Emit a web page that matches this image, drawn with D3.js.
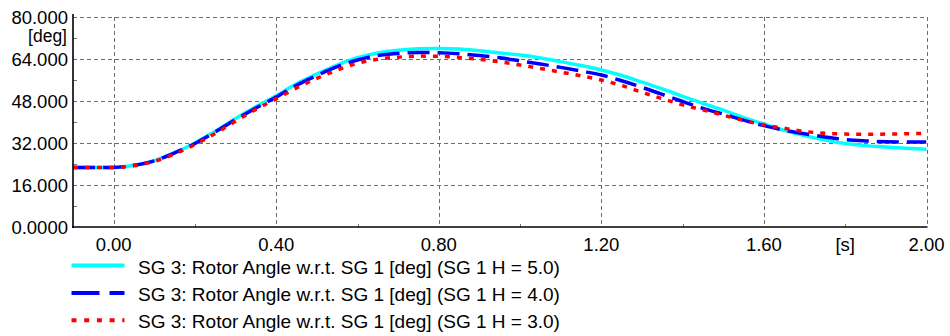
<!DOCTYPE html>
<html>
<head>
<meta charset="utf-8">
<script src="https://cdn.jsdelivr.net/npm/d3@7"></script>
<style>
  html, body { margin: 0; padding: 0; background: #fff; }
  svg { display: block; font-family: "Liberation Sans", Arial, sans-serif; }
</style>
</head>
<body>
<svg id="chart" width="950" height="336"></svg>
<script>
// Simulation time [s]
const timeS = [-0.1, 0, 0.05, 0.1, 0.15, 0.2, 0.25, 0.3, 0.35, 0.4, 0.45, 0.5, 0.55, 0.6, 0.65, 0.7,
  0.75, 0.8, 0.85, 0.9, 0.95, 1.0, 1.05, 1.1, 1.15, 1.2, 1.25, 1.3, 1.35, 1.4, 1.45, 1.5,
  1.55, 1.6, 1.65, 1.7, 1.75, 1.8, 1.85, 1.9, 1.95, 2.0];

// SG 3 rotor angle w.r.t. SG 1 [deg] for three inertia constants of SG 1
const angleH5 = [22.7, 22.7, 23.5, 25.3, 28.3, 32.0, 36.5, 41.3, 45.8, 50.0, 54.6, 58.3, 61.7, 64.5, 66.3, 67.3,
  67.9, 68.0, 67.8, 67.1, 66.3, 65.5, 64.4, 63.0, 61.5, 59.8, 57.7, 55.2, 52.6, 49.8, 47.1, 44.5,
  41.7, 39.2, 36.8, 34.8, 33.1, 31.8, 31.0, 30.5, 30.0, 29.6];
const angleH4 = [22.7, 22.7, 23.5, 25.2, 28.2, 31.8, 36.2, 40.9, 45.3, 49.5, 54.0, 57.7, 61.1, 63.6, 65.3, 66.1,
  66.5, 66.4, 66.0, 65.3, 64.5, 63.3, 62.1, 60.8, 59.4, 57.9, 55.7, 53.2, 50.5, 47.8, 45.2, 43.0,
  40.7, 38.6, 36.9, 35.5, 34.3, 33.3, 32.8, 32.5, 32.4, 32.4];
const angleH3 = [22.7, 22.7, 23.3, 25.0, 27.8, 31.4, 35.6, 40.3, 44.8, 48.8, 53.0, 56.6, 59.8, 62.4, 63.9, 64.7,
  65.1, 65.0, 64.6, 63.9, 62.9, 61.7, 60.4, 59.0, 57.6, 56.0, 53.9, 51.3, 48.9, 46.5, 44.6, 42.6,
  40.6, 38.9, 37.6, 36.4, 35.7, 35.4, 35.3, 35.4, 35.5, 35.7];

const seriesLabels = [
  "SG 3: Rotor Angle w.r.t. SG 1 [deg] (SG 1 H = 5.0)",
  "SG 3: Rotor Angle w.r.t. SG 1 [deg] (SG 1 H = 4.0)",
  "SG 3: Rotor Angle w.r.t. SG 1 [deg] (SG 1 H = 3.0)"
];
const xTickValues = [0, 0.4, 0.8, 1.2, 1.6, 2.0];
const xMinorTicks = [0.2, 0.6, 1.0, 1.4, 1.8];
const yTickValues = [0, 16, 32, 48, 64, 80];
const yTickLabels = ["0.0000", "16.000", "32.000", "48.000", "64.000", "80.000"];
const yMinorTicks = [8, 24, 40, 56, 72];

const series = [
  { values: angleH5, color: "#00ffff", dash: null, legendDash: null },
  { values: angleH4, color: "#0000ff", dash: "22,8", legendDash: "28,10" },
  { values: angleH3, color: "#ff0000", dash: "5,7", legendDash: "5,7.7" }
].map((s, i) => ({ ...s, label: seriesLabels[i] }));

const svg = d3.select("#chart");
const plot = { left: 73, right: 926.5, top: 17, bottom: 227 };
const tickFont = 18.5;

const x = d3.scaleLinear().domain([-0.1, 2.0]).range([plot.left, plot.right]);
const y = d3.scaleLinear().domain([0, 80]).range([plot.bottom, plot.top]);

// Grid (dashed), including the top and right frame edges
const grid = svg.append("g").attr("stroke", "#6e6e6e").attr("stroke-width", 1)
  .attr("stroke-dasharray", "4,3").attr("shape-rendering", "crispEdges");
grid.selectAll("line.gx").data(xTickValues).join("line")
  .attr("x1", d => Math.round(x(d)) + 0.5).attr("x2", d => Math.round(x(d)) + 0.5)
  .attr("y1", plot.top).attr("y2", plot.bottom);
grid.selectAll("line.gy").data(yTickValues.filter(d => d > 0)).join("line")
  .attr("x1", plot.left).attr("x2", plot.right)
  .attr("y1", d => Math.round(y(d)) + 0.5).attr("y2", d => Math.round(y(d)) + 0.5);

// Minor ticks
const minor = svg.append("g").attr("stroke", "#777").attr("stroke-width", 1).attr("shape-rendering", "crispEdges");
minor.selectAll("line.mx").data(xMinorTicks).join("line")
  .attr("x1", d => Math.round(x(d)) + 0.5).attr("x2", d => Math.round(x(d)) + 0.5)
  .attr("y1", plot.bottom - 3).attr("y2", plot.bottom);
minor.selectAll("line.my").data(yMinorTicks).join("line")
  .attr("x1", plot.left).attr("x2", plot.left + 4)
  .attr("y1", d => Math.round(y(d)) + 0.5).attr("y2", d => Math.round(y(d)) + 0.5);

// Curves
svg.append("clipPath").attr("id", "plotClip").append("rect")
  .attr("x", plot.left).attr("y", plot.top - 2)
  .attr("width", plot.right - plot.left).attr("height", plot.bottom - plot.top + 2);

const line = d3.line()
  .x((d, i) => x(timeS[i]))
  .y(d => y(d))
  .curve(d3.curveMonotoneX);

const curves = svg.append("g").attr("clip-path", "url(#plotClip)");
series.forEach(s => {
  curves.append("path")
    .attr("d", line(s.values))
    .attr("fill", "none")
    .attr("stroke", s.color)
    .attr("stroke-width", 3.5)
    .attr("stroke-dasharray", s.dash);
});

// Axis lines
svg.append("line").attr("x1", plot.left).attr("x2", plot.left)
  .attr("y1", plot.top - 3).attr("y2", plot.bottom + 1)
  .attr("stroke", "#000").attr("stroke-width", 1.6);
svg.append("line").attr("x1", plot.left - 1).attr("x2", plot.right + 1)
  .attr("y1", plot.bottom).attr("y2", plot.bottom)
  .attr("stroke", "#000").attr("stroke-width", 1.6);

// Y tick labels
svg.append("g").selectAll("text").data(yTickValues).join("text")
  .attr("x", 68).attr("y", d => y(d))
  .attr("dy", "0.36em")
  .attr("text-anchor", "end")
  .attr("font-size", tickFont)
  .attr("fill", "#000")
  .text((d, i) => yTickLabels[i]);
svg.append("text").attr("x", 67).attr("y", 42)
  .attr("text-anchor", "end").attr("font-size", 17.5).text("[deg]");

// X tick labels
svg.append("g").selectAll("text").data(xTickValues).join("text")
  .attr("x", d => x(d)).attr("y", 251)
  .attr("text-anchor", "middle")
  .attr("font-size", tickFont)
  .text(d => d.toFixed(2));
svg.append("text").attr("x", x(1.8)).attr("y", 251)
  .attr("text-anchor", "middle").attr("font-size", tickFont).text("[s]");

// Legend
const legend = svg.append("g");
series.forEach((s, i) => {
  const cy = 265.5 + i * 27.4;
  legend.append("line")
    .attr("x1", 71.5).attr("x2", 124.5).attr("y1", cy).attr("y2", cy)
    .attr("stroke", s.color).attr("stroke-width", 4)
    .attr("stroke-dasharray", s.legendDash);
  legend.append("text")
    .attr("x", 138).attr("y", cy + 8)
    .attr("font-size", 19)
    .text(s.label);
});
</script>
</body>
</html>
